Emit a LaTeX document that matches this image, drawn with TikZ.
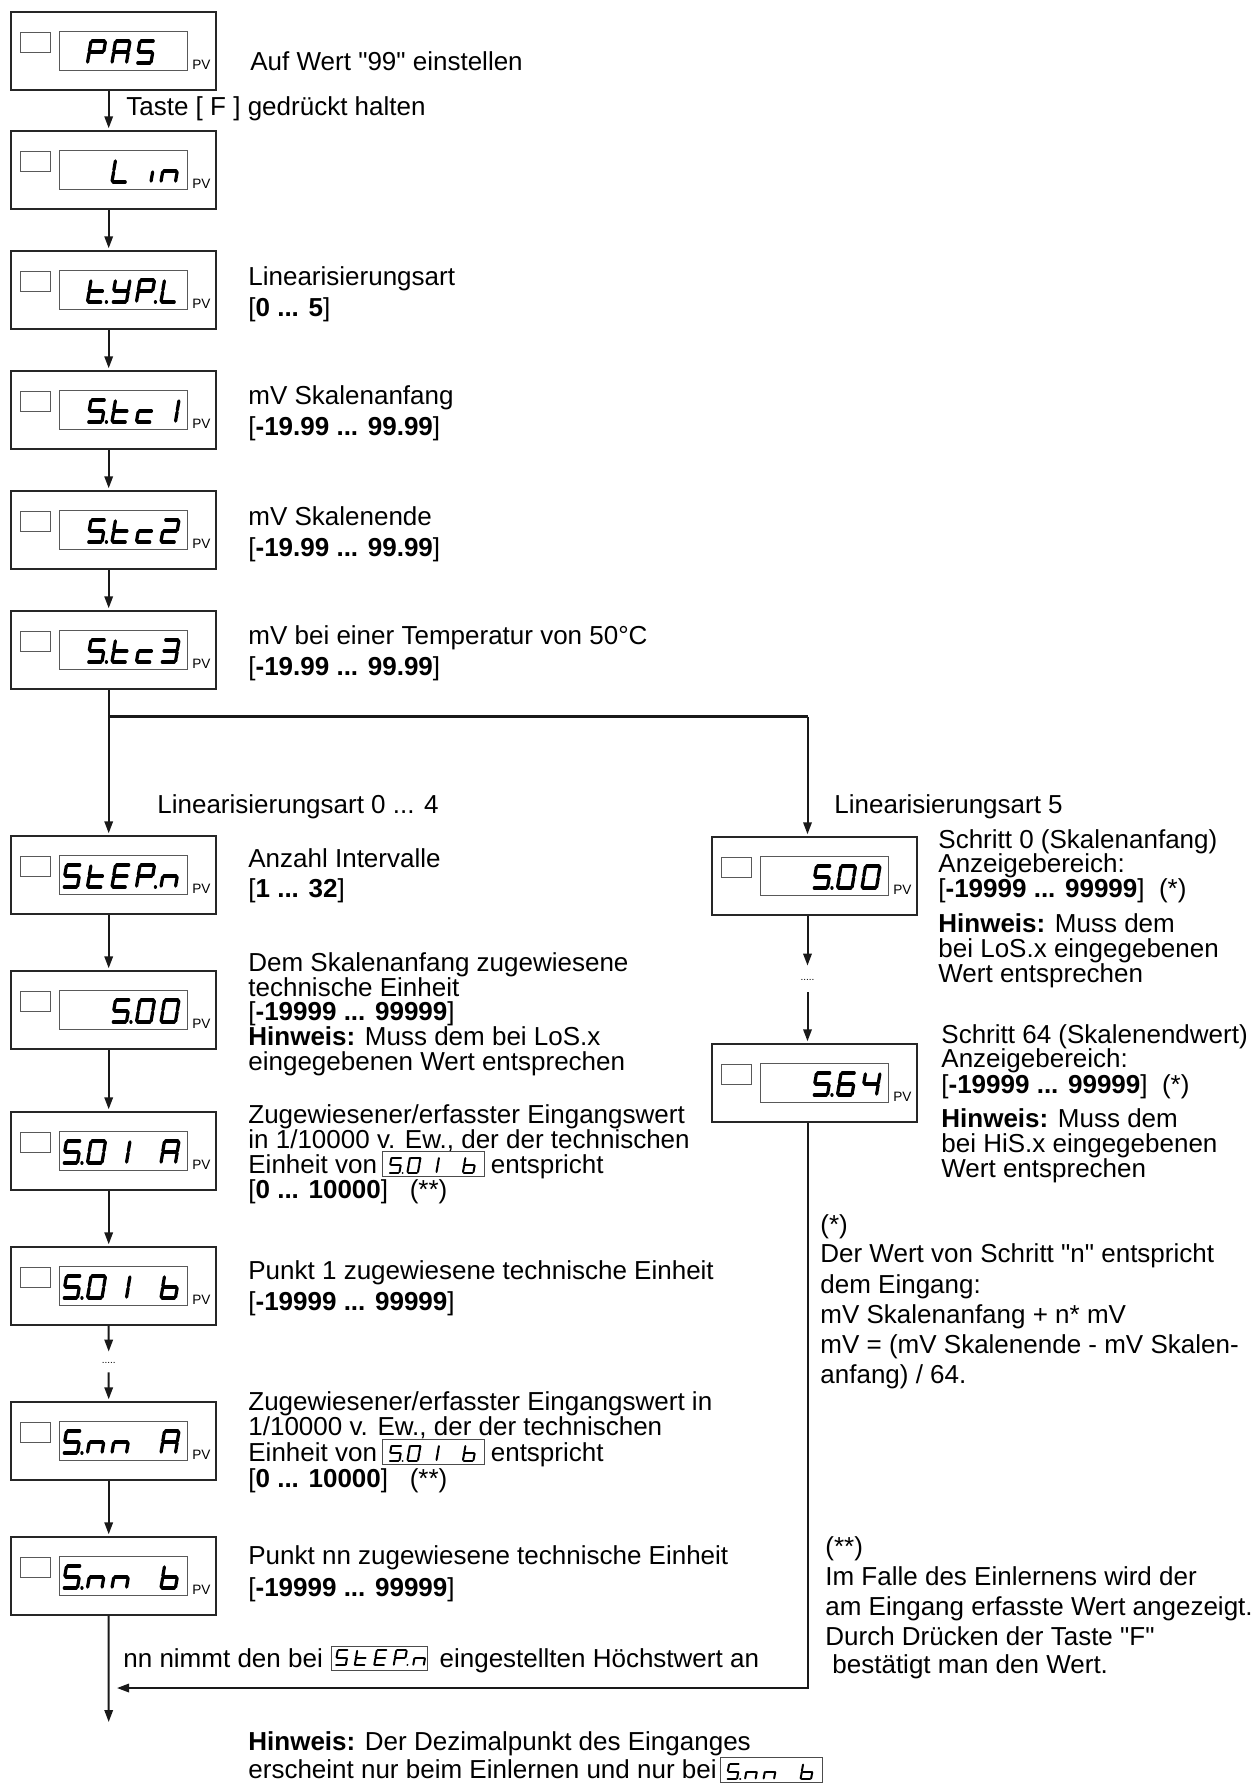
\documentclass[tikz,border=0pt]{standalone}
\usepackage{fontspec}
\setmainfont{Liberation Sans}[Ligatures=TeXOff]
\usetikzlibrary{arrows.meta,calc}
% seven-segment pieces (unit glyph: width 1, height 2, slanted)
\newcommand\SGa{\draw[seg] (0.33,2)--(1.15,2);}
\newcommand\SGb{\draw[seg] (1.235,1.92)--(1.125,1.08);}
\newcommand\SGc{\draw[seg] (1.115,0.92)--(1.005,0.08);}
\newcommand\SGd{\draw[seg] (0.09,0)--(0.91,0);}
\newcommand\SGe{\draw[seg] (0.115,0.92)--(0.005,0.08);}
\newcommand\SGf{\draw[seg] (0.235,1.92)--(0.125,1.08);}
\newcommand\SGg{\draw[seg] (0.21,1)--(1.03,1);}
\newcommand\SGp{\draw[seg] (1.3,0)--(1.31,0);}
\newcommand\dgP{\SGa\SGb\SGf\SGg\SGe}
\newcommand\dgA{\SGa\SGb\SGc\SGe\SGf\SGg}
\newcommand\dgS{\SGa\SGf\SGg\SGc\SGd}
\newcommand\dgL{\SGf\SGe\SGd}
\newcommand\dgi{\SGc}
\newcommand\dgn{\SGe\SGg\SGc}
\newcommand\dgt{\SGf\SGe\SGd\SGg}
\newcommand\dgY{\SGb\SGc\SGd\SGf\SGg}
\newcommand\dgc{\SGg\SGe\SGd}
\newcommand\dgone{\SGb\SGc}
\newcommand\dgtwo{\SGa\SGb\SGg\SGe\SGd}
\newcommand\dgthree{\SGa\SGb\SGg\SGc\SGd}
\newcommand\dgE{\SGa\SGf\SGg\SGe\SGd}
\newcommand\dgzero{\SGa\SGb\SGc\SGd\SGe\SGf}
\newcommand\dgb{\SGf\SGe\SGd\SGc\SGg}
\newcommand\dgsix{\SGa\SGf\SGg\SGe\SGd\SGc}
\newcommand\dgfour{\SGf\SGg\SGb\SGc}
\newcommand\dgdot{\SGp}
% big display cell
\newcommand\bcell[2]{\begin{scope}[shift={({\bL+52+24.5*(#1-1)},{\bT+51})},xscale=14.5,yscale=-11]#2\end{scope}}
% display box
\newcommand\dbox[4]{\def\bL{#2}\def\bT{#3}%
 \node[obox] (#1) at ({#2+102.5},{#3+39}) {};
 \draw[ibox] ({#2+9},{#3+20}) rectangle ({#2+39},{#3+40});
 \draw[ibox] ({#2+48},{#3+19.5}) rectangle ({#2+176},{#3+58.5});
 \node[pv] (#1pv) at ({#2+181},{#3+57.3}) {PV};
 #4}
% inline small display: name, position, width(pt), height(pt), first offset, pitch, glyph lift, cells
\newcommand\scell[2]{\begin{scope}[shift={({\iOff+\iPitch*(#1-1)},{-\iLift})},xscale=10.5,yscale=-7.5]#2\end{scope}}
\newcommand\inlbox[8]{\def\iOff{#5}\def\iPitch{#6}\def\iLift{#7}%
 \node[ibx,minimum width=#3,minimum height=#4] (#1) at (#2) {};
 \begin{scope}[shift={(#1.south west)},seg/.style={line width=1pt,line cap=round}]#8\end{scope}}
\begin{document}
\begin{tikzpicture}[x=0.5pt,y=-0.5pt,
 seg/.style={line width=1.6pt,line cap=round},
 obox/.style={draw=black!85,line width=0.7pt,minimum width=102.5pt,minimum height=39pt,inner sep=0pt},
 ibox/.style={draw=black!65,line width=0.5pt},
 pv/.style={anchor=base west,inner sep=0pt,font=\fontsize{6.8pt}{7pt}\selectfont},
 txt/.style={anchor=base west,inner sep=0pt,font=\fontsize{13pt}{15pt}\selectfont},
 arr/.style={draw=black!90,line width=1pt,shorten >=1pt,-{Triangle[length=6pt,width=4.2pt]}},
 ln/.style={draw=black!90,line width=1.4pt},
 ibx/.style={draw=black!70,line width=0.5pt,inner sep=0pt,anchor=south west},
 dots/.style={inner sep=0pt,font=\fontsize{5pt}{5pt}\selectfont}
]
\useasboundingbox (0,0) rectangle (1253,1783);

% ---------- left column boxes ----------
\dbox{b1}{11}{12}{\bcell{2}{\dgP}\bcell{3}{\dgA}\bcell{4}{\dgS}}
\dbox{b2}{11}{131}{\bcell{3}{\dgL}\bcell{4}{\dgi}\bcell{5}{\dgn}}
\dbox{b3}{11}{251}{\bcell{2}{\dgt\dgdot}\bcell{3}{\dgY}\bcell{4}{\dgP\dgdot}\bcell{5}{\dgL}}
\dbox{b4}{11}{371}{\bcell{2}{\dgS\dgdot}\bcell{3}{\dgt}\bcell{4}{\dgc}\bcell{5}{\dgone}}
\dbox{b5}{11}{491}{\bcell{2}{\dgS\dgdot}\bcell{3}{\dgt}\bcell{4}{\dgc}\bcell{5}{\dgtwo}}
\dbox{b6}{11}{611}{\bcell{2}{\dgS\dgdot}\bcell{3}{\dgt}\bcell{4}{\dgc}\bcell{5}{\dgthree}}
\dbox{b7}{11}{836}{\bcell{1}{\dgS}\bcell{2}{\dgt}\bcell{3}{\dgE}\bcell{4}{\dgP\dgdot}\bcell{5}{\dgn}}
\dbox{b8}{11}{971}{\bcell{3}{\dgS\dgdot}\bcell{4}{\dgzero}\bcell{5}{\dgzero}}
\dbox{b9}{11}{1112}{\bcell{1}{\dgS\dgdot}\bcell{2}{\dgzero}\bcell{3}{\dgone}\bcell{5}{\dgA}}
\dbox{b10}{11}{1247}{\bcell{1}{\dgS\dgdot}\bcell{2}{\dgzero}\bcell{3}{\dgone}\bcell{5}{\dgb}}
\dbox{b11}{11}{1402}{\bcell{1}{\dgS\dgdot}\bcell{2}{\dgn}\bcell{3}{\dgn}\bcell{5}{\dgA}}
\dbox{b12}{11}{1537}{\bcell{1}{\dgS\dgdot}\bcell{2}{\dgn}\bcell{3}{\dgn}\bcell{5}{\dgb}}
% ---------- right column boxes ----------
\dbox{r1}{712}{837}{\bcell{3}{\dgS\dgdot}\bcell{4}{\dgzero}\bcell{5}{\dgzero}}
\dbox{r2}{712}{1044}{\bcell{3}{\dgS\dgdot}\bcell{4}{\dgsix}\bcell{5}{\dgfour}}

% ---------- connectors ----------
\draw[arr] ([xshift=-2.4pt]b1.south) -- ([xshift=-2.4pt]b2.north);
\draw[arr] ([xshift=-2.4pt]b2.south) -- ([xshift=-2.4pt]b3.north);
\draw[arr] ([xshift=-2.4pt]b3.south) -- ([xshift=-2.4pt]b4.north);
\draw[arr] ([xshift=-2.4pt]b4.south) -- ([xshift=-2.4pt]b5.north);
\draw[arr] ([xshift=-2.4pt]b5.south) -- ([xshift=-2.4pt]b6.north);
\draw[arr] ([xshift=-2.4pt]b6.south) -- ([xshift=-2.4pt]b7.north);
\coordinate (brL) at (109,716.5);
\coordinate (brR) at (807.5,716.5);
\draw[ln] (brL) -- (brR);
\draw[arr] (brR) -- ([xshift=-3.5pt]r1.north);
\draw[arr] ([xshift=-2.4pt]b7.south) -- ([xshift=-2.4pt]b8.north);
\draw[arr] ([xshift=-2.4pt]b8.south) -- ([xshift=-2.4pt]b9.north);
\draw[arr] ([xshift=-2.4pt]b9.south) -- ([xshift=-2.4pt]b10.north);
\node[dots,minimum height=9pt] (dL) at (108.7,1363) {.....};
\draw[arr] ([xshift=-2.4pt]b10.south) -- (dL.north);
\draw[arr] (dL.south) -- ([xshift=-2.4pt]b11.north);
\draw[arr] ([xshift=-2.4pt]b11.south) -- ([xshift=-2.4pt]b12.north);
\node[dots,minimum height=12pt] (dR) at (807.5,980) {.....};
\draw[arr] ([xshift=-3.5pt]r1.south) -- (dR.north);
\draw[arr] (dR.south) -- ([xshift=-3.5pt]r2.north);
\coordinate (cR) at (807.5,1688);
\coordinate (cL) at (115,1688);
\coordinate (cE) at (108.7,1724);
\draw[arr] ([xshift=-3.5pt]r2.south) -- (cR) -- (cL);
\draw[arr] ([xshift=-2.4pt]b12.south) -- (cE);

% ---------- texts left ----------
\node[txt] (tA) at (250,70) {Auf Wert "99" einstellen};
\node[txt] (tB) at (126,115) {Taste [ F ] gedrückt halten};
\node[txt] (t3a) at (248,285) {Linearisierungsart};
\node[txt] (t3b) at (248,316) {[\textbf{0 ... 5}]};
\node[txt] (t4a) at (248,404) {mV Skalenanfang};
\node[txt] (t4b) at (248,435) {[\textbf{-19.99 ... 99.99}]};
\node[txt] (t5a) at (248,525) {mV Skalenende};
\node[txt] (t5b) at (248,556) {[\textbf{-19.99 ... 99.99}]};
\node[txt] (t6a) at (248,644) {mV bei einer Temperatur von 50°C};
\node[txt] (t6b) at (248,675) {[\textbf{-19.99 ... 99.99}]};
\node[txt] (tL04) at (157,813) {Linearisierungsart 0 ... 4};
\node[txt] (tL5) at (834,813) {Linearisierungsart 5};
\node[txt] (t7a) at (248,867) {Anzahl Intervalle};
\node[txt] (t7b) at (248,897) {[\textbf{1 ... 32}]};
\node[txt] (t8a) at (248,971) {Dem Skalenanfang zugewiesene};
\node[txt] (t8b) at (248,996) {technische Einheit};
\node[txt] (t8c) at (248,1020) {[\textbf{-19999 ... 99999}]};
\node[txt] (t8d) at (248,1045) {\textbf{Hinweis:} Muss dem bei LoS.x};
\node[txt] (t8e) at (248,1070) {eingegebenen Wert entsprechen};
\node[txt] (t9a) at (248,1123) {Zugewiesener/erfasster Eingangswert};
\node[txt] (t9b) at (248,1148) {in 1/10000 v. Ew., der der technischen};
\node[txt] (t9c) at (248,1173) {Einheit von};
\inlbox{ib1}{$(t9c.base east)+(5,3.5)$}{51pt}{12.5pt}{6.5}{18.5}{4}{\scell{1}{\dgS\dgdot}\scell{2}{\dgzero}\scell{3}{\dgone}\scell{5}{\dgb}}
\node[txt] (t9d) at ($(ib1.south east)+(5,-3.5)$) {entspricht};
\node[txt] (t9e) at (248,1198) {[\textbf{0 ... 10000}]\ \ \ (**)};
\node[txt] (t10a) at (248,1279) {Punkt 1 zugewiesene technische Einheit};
\node[txt] (t10b) at (248,1310) {[\textbf{-19999 ... 99999}]};
\node[txt] (t11a) at (248,1410) {Zugewiesener/erfasster Eingangswert in};
\node[txt] (t11b) at (248,1435) {1/10000 v. Ew., der der technischen};
\node[txt] (t11c) at (248,1461) {Einheit von};
\inlbox{ib2}{$(t11c.base east)+(5,3.5)$}{51pt}{12.5pt}{6.5}{18.5}{4}{\scell{1}{\dgS\dgdot}\scell{2}{\dgzero}\scell{3}{\dgone}\scell{5}{\dgb}}
\node[txt] (t11d) at ($(ib2.south east)+(5,-3.5)$) {entspricht};
\node[txt] (t11e) at (248,1487) {[\textbf{0 ... 10000}]\ \ \ (**)};
\node[txt] (t12a) at (248,1564) {Punkt nn zugewiesene technische Einheit};
\node[txt] (t12b) at (248,1596) {[\textbf{-19999 ... 99999}]};
\node[txt] (t13a) at (123,1667) {nn nimmt den bei};
\inlbox{ib3}{$(t13a.base east)+(8,4.3)$}{48pt}{12.2pt}{4}{19.5}{6}{\scell{1}{\dgS}\scell{2}{\dgt}\scell{3}{\dgE}\scell{4}{\dgP\dgdot}\scell{5}{\dgn}}
\node[txt] (t13b) at ($(ib3.south east)+(11,-4.3)$) {eingestellten Höchstwert an};
\node[txt] (t14a) at (248,1750) {\textbf{Hinweis:} Der Dezimalpunkt des Einganges};
\node[txt] (t14b) at (248,1778) {erscheint nur beim Einlernen und nur bei};
\inlbox{ib4}{$(t14b.base east)+(3,5)$}{51pt}{12.5pt}{6.5}{18.5}{4}{\scell{1}{\dgS\dgdot}\scell{2}{\dgn}\scell{3}{\dgn}\scell{5}{\dgb}}

% ---------- texts right ----------
\node[txt] (r1a) at (938,848) {Schritt 0 (Skalenanfang)};
\node[txt] (r1b) at (938,872) {Anzeigebereich:};
\node[txt] (r1c) at (938,897) {[\textbf{-19999 ... 99999}]\ \ (*)};
\node[txt] (r1d) at (938,932) {\textbf{Hinweis:} Muss dem};
\node[txt] (r1e) at (938,957) {bei LoS.x eingegebenen};
\node[txt] (r1f) at (938,982) {Wert entsprechen};
\node[txt] (r2a) at (941,1043) {Schritt 64 (Skalenendwert)};
\node[txt] (r2b) at (941,1067) {Anzeigebereich:};
\node[txt] (r2c) at (941,1093) {[\textbf{-19999 ... 99999}]\ \ (*)};
\node[txt] (r2d) at (941,1127) {\textbf{Hinweis:} Muss dem};
\node[txt] (r2e) at (941,1152) {bei HiS.x eingegebenen};
\node[txt] (r2f) at (941,1177) {Wert entsprechen};
\node[txt] (f1a) at (820,1233) {(*)};
\node[txt] (f1b) at (820,1262) {Der Wert von Schritt "n" entspricht};
\node[txt] (f1c) at (820,1293) {dem Eingang:};
\node[txt] (f1d) at (820,1323) {mV Skalenanfang + n* mV};
\node[txt] (f1e) at (820,1353) {mV = (mV Skalenende - mV Skalen-};
\node[txt] (f1f) at (820,1383) {anfang) / 64.};
\node[txt] (f2a) at (825,1555) {(**)};
\node[txt] (f2b) at (825,1585) {Im Falle des Einlernens wird der};
\node[txt] (f2c) at (825,1615) {am Eingang erfasste Wert angezeigt.};
\node[txt] (f2d) at (825,1645) {Durch Drücken der Taste "F"};
\node[txt] (f2e) at (832,1673) {bestätigt man den Wert.};
\end{tikzpicture}
\end{document}
